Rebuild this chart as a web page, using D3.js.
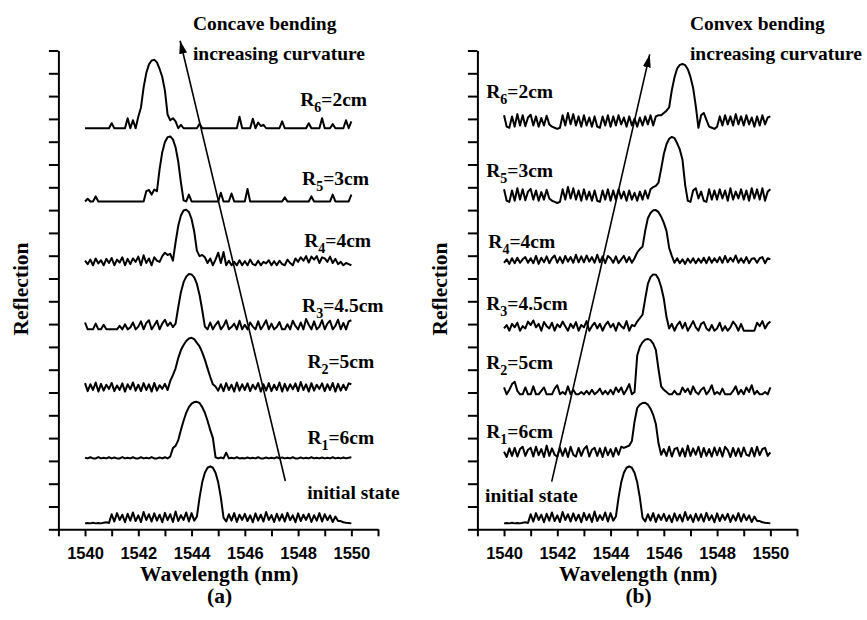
<!DOCTYPE html>
<html lang="en">
<head>
<meta charset="utf-8">
<title>Reflection spectra under bending</title>
<script src="https://cdn.jsdelivr.net/npm/d3@7"></script>
<style>
    body { margin: 0; background: #fff; }
    .axis path,
    .axis line {
        fill: none;
        stroke: #000;
        stroke-width: 2;
    }
    .trace {
        fill: none;
        stroke: #000;
        stroke-width: 2;
        stroke-linejoin: round;
    }
    .note {
        font-family: "Liberation Serif", "Times New Roman", serif;
        font-weight: bold;
        font-size: 19.5px;
    }
    .title {
        font-family: "Liberation Serif", "Times New Roman", serif;
        font-weight: bold;
        font-size: 21.5px;
    }
</style>
</head>
<body>
<svg id="chart" width="867" height="620"></svg>

<script>
// spectra sampled every 0.1 nm from 1540 to 1550 nm,
// values are reflection above each trace's own baseline (1/100 of a tick)
var wlStart = 1540, wlStep = 0.1;

var initialState = [
    0,2,0,3,0,2,0,3,5,2, 40,8,45,15,38,5,42,12,48,10,
    35,6,50,15,40,8,44,12,38,5, 46,14,40,6,52,10,36,15,48,8,
    45,12,30,113,180,222,244,250,244,222, 180,113,25,8,40,12,45,6,38,15,
    42,10,35,5,44,12,38,8,50,15, 36,6,42,12,40,8,46,14,35,5,
    44,10,38,15,42,6,36,12,45,8, 40,14,35,6,30,10,10,5,3,2, 0];

// concave bending
var concaveR1 = [
    3,0,5,0,0,6,0,3,0,5, 0,4,0,0,6,0,3,0,5,0,
    0,5,0,3,0,6,0,0,4,0, 5,0,8,45,55,80,125,165,200,225,
    240,247,248,243,225,200,165,125,90,5, 0,4,0,25,0,3,0,5,0,2,
    0,4,0,3,0,5,0,0,4,0, 3,0,5,0,4,0,3,0,5,0,
    0,4,0,3,0,5,0,3,0,4, 0,3,0,5,0,3,0,4,0,3, 5];
var concaveR2 = [
    45,10,40,15,48,8,42,12,38,20, 46,10,35,15,44,8,40,18,48,12,
    38,10,45,15,40,8,46,12,36,20, 42,15,55,80,110,155,190,212,230,241,
    244,238,222,206,180,148,110,73,40,30, 12,40,10,45,15,38,8,48,12,40,
    15,44,10,38,18,46,8,40,12,45, 10,38,15,48,8,42,12,40,18,44,
    10,50,15,40,8,45,12,38,20,44, 10,40,15,46,8,42,12,38,15,44, 40];
var concaveR3 = [
    30,0,0,0,25,0,0,20,0,0, 0,0,0,15,0,22,0,8,30,0,
    12,35,0,28,40,0,18,38,0,25, 42,15,30,10,25,97,163,207,231,243,
    241,228,199,151,85,12,0,30,0,20, 35,0,15,40,0,10,25,0,38,0,
    20,0,30,12,0,35,0,18,40,0, 25,0,10,32,0,0,22,0,38,15,
    0,30,0,45,20,0,35,0,12,40, 0,25,38,0,15,42,0,28,0,35, 40];
var concaveR4 = [
    20,5,25,0,30,8,22,0,28,10, 32,0,25,12,35,0,28,5,30,15,
    38,0,44,10,30,0,35,20,15,40, 55,45,50,20,101,173,218,240,244,234,
    203,148,64,40,45,35,10,30,0,25, 55,10,58,0,20,0,15,0,22,0,
    18,0,25,5,0,20,0,15,8,22, 0,18,0,20,5,0,25,10,0,30,
    15,35,20,40,12,38,25,40,10,35, 30,15,38,10,28,5,15,0,10,5, 0];
var concaveR5 = [
    0,12,0,0,22,0,0,0,0,0, 0,0,0,0,0,0,0,0,0,0,
    0,0,0,45,50,30,52,45,142,216, 261,282,285,272,237,175,84,5,0,30,
    0,0,0,0,0,0,0,0,0,0, 0,38,0,0,0,35,0,0,0,0,
    0,55,0,0,0,0,0,0,0,0, 0,0,0,0,0,18,0,0,0,0,
    0,0,0,0,0,22,0,0,0,0, 0,0,0,30,0,0,0,0,0,0, 30];
var concaveR6 = [
    0,0,0,0,0,0,0,0,0,0, 22,0,0,0,0,0,44,0,35,0,
    50,91,179,242,280,297,300,289,260,225, 165,60,35,44,30,0,15,0,0,0,
    0,0,0,20,0,0,0,0,0,0, 0,0,0,0,0,0,0,0,50,0,
    0,0,0,42,0,25,10,15,0,0, 0,0,0,0,30,0,0,0,0,0,
    0,0,0,0,22,0,0,0,0,44, 0,0,0,18,0,0,0,0,35,0, 30];

// convex bending
var convexR1 = [
    33,10,48,15,50,12,45,55,15,42, 50,12,55,18,45,10,60,15,48,20,
    12,50,15,48,10,55,20,12,50,15, 45,58,12,42,50,15,48,10,52,18,
    45,12,50,20,55,50,55,60,80,165, 225,240,247,248,240,222,195,155,70,20,
    45,15,55,12,45,50,15,48,12,60, 15,48,20,55,10,50,15,45,12,52,
    18,50,12,55,40,10,50,15,48,12, 52,20,15,50,12,55,18,45,50,15, 30];
var convexR2 = [
    30,0,20,45,55,15,0,0,30,0, 0,35,0,0,15,30,0,0,0,25,
    40,0,10,0,35,0,20,0,0,10, 0,15,0,20,0,10,25,0,15,0,
    20,0,30,10,30,0,20,45,0,10, 170,209,228,240,243,238,222,195,110,35,
    20,10,0,0,15,0,0,30,10,25, 0,35,10,0,20,30,0,15,40,0,
    10,0,25,0,0,0,15,35,0,20, 0,30,10,40,0,15,0,0,10,0, 30];
var convexR3 = [
    10,25,0,30,15,35,0,20,10,40, 25,45,15,30,0,38,20,10,35,0,
    28,15,40,20,0,30,12,38,0,25, 15,42,0,20,35,10,30,0,25,40,
    15,30,0,35,20,10,42,0,25,20, 40,55,70,140,205,235,247,246,228,192,
    140,60,10,30,0,25,40,10,35,0, 20,42,15,0,30,38,10,0,25,0,
    10,35,0,20,0,15,40,25,0,30, 0,0,0,0,0,35,20,42,10,30, 40];
var convexR4 = [
    10,25,5,30,8,32,10,25,35,10, 30,8,40,5,32,12,38,8,30,42,
    10,35,8,40,15,35,10,45,12,38, 12,42,15,35,10,45,12,38,8,40,
    30,10,38,8,25,40,12,35,10,30, 55,70,80,150,205,228,240,241,232,212,
    185,150,75,40,10,30,8,25,5,28, 10,30,8,28,10,32,8,35,10,30,
    12,35,10,40,12,32,15,42,10,30, 10,35,8,28,30,10,30,35,8,30, 25];
var convexR5 = [
    60,10,5,55,10,65,15,60,12,50, 62,15,55,10,48,15,58,20,10,5,
    0,5,60,15,70,20,65,15,55,10, 60,15,50,10,55,10,5,55,15,60,
    10,55,15,60,20,50,10,55,15,45, 10,50,15,55,20,60,70,75,90,150,
    215,258,282,290,285,262,235,190,80,10, 5,55,65,20,50,10,5,60,15,55,
    15,60,20,55,10,65,15,50,20,60, 15,55,10,65,20,60,15,65,10,50, 60];
var convexR6 = [
    60,10,5,55,10,65,15,60,12,50, 62,15,55,10,48,15,58,20,10,5,
    0,5,60,15,70,20,65,15,55,10, 60,15,50,10,55,10,5,55,15,60,
    10,55,15,60,20,50,10,55,15,45, 10,50,15,55,20,60,15,55,60,60,
    70,80,95,170,226,265,281,285,280,262, 228,180,100,5,60,70,40,10,5,0,
    10,55,15,60,20,55,15,65,20,55, 15,60,20,50,10,55,15,60,20,50, 55];

// vertical offset of each stacked trace (tick units), bottom to top
var concaveOffsets = [0.26, 3.11, 5.96, 8.77, 11.58, 14.38, 17.59];
var convexOffsets  = [0.26, 3.07, 5.92, 8.71, 11.59, 14.31, 17.56];

var radiusIndex = [1, 2, 3, 4, 5, 6];
var radiusText  = ["6cm", "5cm", "4.5cm", "4cm", "3cm", "2cm"];
var xTickLabels = [1540, 1542, 1544, 1546, 1548, 1550];

var panels = [
    { x0: 58.4, tag: "(a)", head: "Concave bending",
      traces: [initialState, concaveR1, concaveR2, concaveR3, concaveR4, concaveR5, concaveR6],
      offsets: concaveOffsets,
      labelAt: [[1548.34, 1.32], [1548.35, 3.74], [1548.35, 7.06], [1548.15, 9.54],
                [1548.23, 12.39], [1548.15, 15.10], [1548.08, 18.57]],
      headX: 1544.05,
      arrow: [[1547.52, 2.12], [1543.57, 21.43]] },
    { x0: 477.4, tag: "(b)", head: "Convex bending",
      traces: [initialState, convexR1, convexR2, convexR3, convexR4, convexR5, convexR6],
      offsets: convexOffsets,
      labelAt: [[1539.29, 1.21], [1539.33, 4.02], [1539.33, 7.03], [1539.33, 9.62],
                [1539.41, 12.32], [1539.33, 15.46], [1539.33, 18.9]],
      headX: 1546.98,
      arrow: [[1541.79, 2.09], [1545.47, 20.83]] }
];

var svg = d3.select("#chart");

svg.append("defs").append("marker")
    .attr("id", "head")
    .attr("markerUnits", "userSpaceOnUse")
    .attr("markerWidth", 16).attr("markerHeight", 12)
    .attr("refX", 13).attr("refY", 6)
    .attr("orient", "auto")
  .append("path")
    .attr("d", "M0,2 L13,6 L0,10 Z")
    .attr("fill", "#000");

var y = d3.scaleLinear().domain([0, 21]).range([529.3, 50.5]);

panels.forEach(function(p) {
    var x = d3.scaleLinear().domain([1539, 1551]).range([p.x0, p.x0 + 319.6]);
    var g = svg.append("g");

    // axes
    var xAxis = g.append("g")
        .attr("class", "axis")
        .attr("transform", "translate(0," + y(0) + ")")
        .call(d3.axisBottom(x)
            .tickValues(d3.range(1539, 1552))
            .tickSize(7).tickSizeOuter(0).tickPadding(10.5)
            .tickFormat(function(d) { return xTickLabels.indexOf(d) >= 0 ? d : ""; }));
    xAxis.attr("font-family", null).attr("font-size", null);
    xAxis.selectAll("text")
        .style("font-family", "'Liberation Sans', Arial, sans-serif")
        .style("font-weight", "700")
        .style("font-size", "16.5px")
        .style("fill", "#000");

    g.append("g")
        .attr("class", "axis")
        .attr("transform", "translate(" + p.x0 + ",0)")
        .call(d3.axisLeft(y)
            .tickValues(d3.range(0, 22))
            .tickSize(9.5).tickSizeOuter(0)
            .tickFormat(""));

    // spectra
    p.traces.forEach(function(tr, k) {
        var off = p.offsets[k];
        var line = d3.line()
            .x(function(d, i) { return x(wlStart + i * wlStep); })
            .y(function(d) { return y(off + d / 100); });
        g.append("path")
            .attr("class", "trace")
            .attr("d", line(tr));
    });

    // trace labels
    p.labelAt.forEach(function(pos, k) {
        var t = g.append("text")
            .attr("class", "note")
            .attr("x", x(pos[0]))
            .attr("y", y(pos[1]));
        if (k === 0) {
            t.text("initial state");
        } else {
            t.append("tspan").text("R");
            t.append("tspan").attr("dy", 6).style("font-size", "14px").text(radiusIndex[k - 1]);
            t.append("tspan").attr("dy", -6).text("=" + radiusText[k - 1]);
        }
    });

    // arrow + heading
    g.append("line")
        .attr("x1", x(p.arrow[0][0])).attr("y1", y(p.arrow[0][1]))
        .attr("x2", x(p.arrow[1][0])).attr("y2", y(p.arrow[1][1]))
        .attr("stroke", "#000")
        .attr("stroke-width", 1.6)
        .attr("marker-end", "url(#head)");

    g.append("text").attr("class", "note")
        .attr("x", x(p.headX)).attr("y", 30)
        .text(p.head);
    g.append("text").attr("class", "note")
        .attr("x", x(p.headX)).attr("y", 59.5)
        .text("increasing curvature");

    // axis titles
    g.append("text").attr("class", "title")
        .attr("text-anchor", "middle")
        .attr("transform", "translate(" + (p.x0 - 30.1) + ",289) rotate(-90)")
        .text("Reflection");
    g.append("text").attr("class", "title")
        .attr("text-anchor", "middle")
        .attr("x", p.x0 + 160.8).attr("y", 580.5)
        .text("Wavelength (nm)");
    g.append("text").attr("class", "title")
        .attr("text-anchor", "middle")
        .attr("x", p.x0 + 161.2).attr("y", 603)
        .text(p.tag);
});
</script>
</body>
</html>
